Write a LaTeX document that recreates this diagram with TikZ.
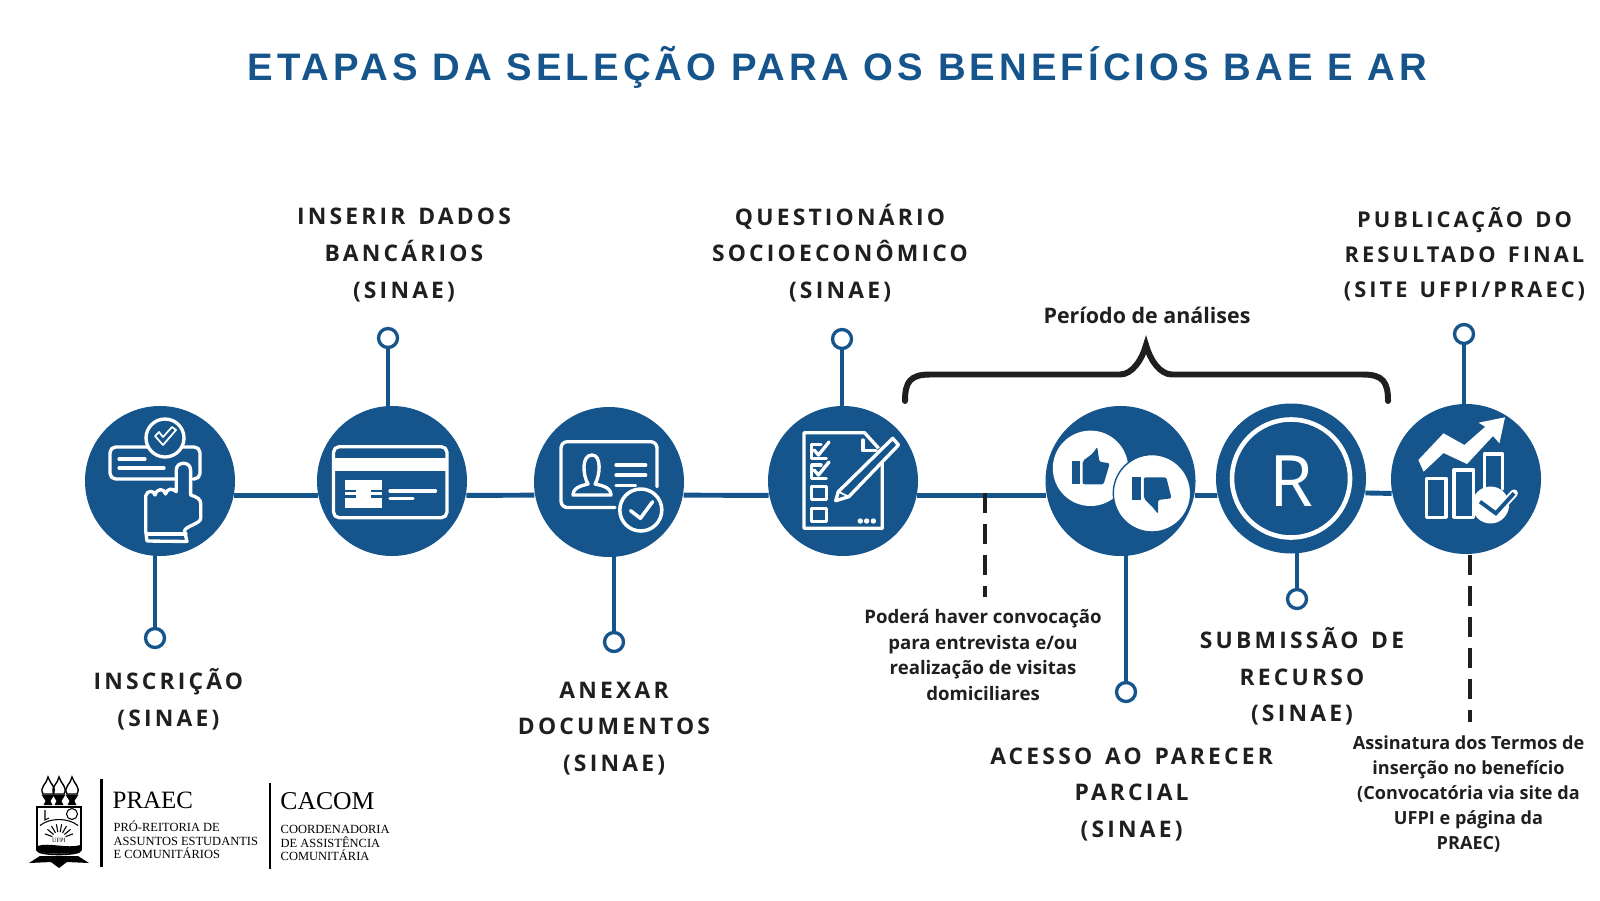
\documentclass[tikz,border=0pt]{standalone}
\usepackage{fontspec}
\usepackage{xcolor}
\usepackage{tikz}
\usetikzlibrary{backgrounds}
\setmainfont{Open Sans}
\newfontfamily\titlefont[LetterSpace=10.7]{Liberation Sans}
\newfontfamily\stepfont[LetterSpace=14,WordSpace=1.4]{Open Sans}
\newfontfamily\logofont{Liberation Serif}
\definecolor{praecblue}{HTML}{15558C}
\definecolor{inkdark}{HTML}{1F1F1F}

\begin{document}
\begin{tikzpicture}[
stagecircle/.style={circle,fill=praecblue,minimum size=1.5cm,inner sep=0pt},
linkdot/.style={circle,draw=praecblue,fill=white,line width=0.95pt,minimum size=0.19cm,inner sep=0pt},
timeline/.style={draw=praecblue,line width=1.4pt},
stemline/.style={draw=praecblue,line width=0.95pt},
guideline/.style={draw=inkdark,line width=1.15pt,dash pattern=on 5.7pt off 3.1pt},
bracket/.style={draw=inkdark,line width=1.7pt,line cap=round},
steplabel/.style={align=center,text=inkdark,inner sep=0pt,font=\stepfont\bfseries\fontsize{6.5}{10.4}\selectfont},
notelabel/.style={align=center,text=inkdark,inner sep=0pt,font=\bfseries\fontsize{5.3}{7.35}\selectfont},
iconline/.style={draw=white,line width=0.95pt,line join=round,line cap=round},
iconfill/.style={fill=white},
iconcut/.style={draw=praecblue,line width=0.7pt},
logoname/.style={anchor=base west,inner sep=0pt,font=\logofont\fontsize{7.1}{9}\selectfont},
logotext/.style={anchor=north west,align=left,inner sep=0pt,font=\logofont\fontsize{3.55}{3.8}\selectfont},
logorule/.style={draw=black,line width=0.85pt},
crestline/.style={draw=black,line width=0.3pt}
]
\useasboundingbox (0,0) rectangle (16,9);

\node[font=\titlefont\bfseries\fontsize{10.9}{13}\selectfont,text=praecblue] (titulo) at (8.375,8.33) {ETAPAS DA SELEÇÃO PARA OS BENEFÍCIOS BAE E AR};

% circulos das etapas
\node[stagecircle] (inscricao) at (1.60,4.19) {};
\node[stagecircle] (cartao) at (3.92,4.19) {};
\node[stagecircle] (anexo) at (6.09,4.18) {};
\node[stagecircle] (questionario) at (8.43,4.19) {};
\node[stagecircle] (parecer) at (11.205,4.19) {};
\node[stagecircle] (recurso) at (12.91,4.215) {};
\node[stagecircle] (resultado) at (14.66,4.21) {};

\node[linkdot] (inscricaoDot) at (1.55,2.62) {};
\node[linkdot] (cartaoDot) at (3.88,5.62) {};
\node[linkdot] (anexoDot) at (6.14,2.58) {};
\node[linkdot] (questionarioDot) at (8.42,5.61) {};
\node[linkdot] (parecerDot) at (11.26,2.08) {};
\node[linkdot] (recursoDot) at (12.97,3.01) {};
\node[linkdot] (resultadoDot) at (14.64,5.66) {};

\begin{scope}[on background layer]
\draw[timeline] (inscricao.-11) -- (cartao.191);
\draw[timeline] (cartao.-11) -- (anexo.190);
\draw[timeline] (anexo.-10) -- (questionario.191);
\draw[timeline] (questionario.-11) -- (parecer.191);
\draw[timeline] (parecer.-11) -- (recurso.193);
\draw[timeline] (recurso.-11) -- (resultado.191);
\draw[stemline] (inscricaoDot) -- (inscricaoDot |- inscricao.center);
\draw[stemline] (cartaoDot) -- (cartaoDot |- cartao.center);
\draw[stemline] (anexoDot) -- (anexoDot |- anexo.center);
\draw[stemline] (questionarioDot) -- (questionarioDot |- questionario.center);
\draw[stemline] (parecerDot) -- (parecerDot |- parecer.center);
\draw[stemline] (recursoDot) -- (recursoDot |- recurso.center);
\draw[stemline] (resultadoDot) -- (resultadoDot |- resultado.center);
\end{scope}

\coordinate (visitaTop) at (9.85,4.07);
\coordinate (visitaEnd) at (9.85,3.03);
\draw[guideline] (visitaTop) -- (visitaEnd);
\coordinate (termoTop) at (14.70,3.45);
\coordinate (termoEnd) at (14.70,1.78);
\draw[guideline] (termoTop) -- (termoEnd);

% chave do periodo de analises
\coordinate (chaveEsq) at (9.05,4.99);
\coordinate (chaveMeio) at (11.46,5.55);
\coordinate (chaveDir) at (13.88,4.99);
\draw[bracket] (chaveEsq) .. controls (9.05,5.18) and (9.10,5.255) .. (9.30,5.255)
  -- (11.20,5.255) .. controls (11.32,5.255) and (11.42,5.40) .. (chaveMeio)
  .. controls (11.50,5.40) and (11.60,5.255) .. (11.72,5.255)
  -- (13.63,5.255) .. controls (13.83,5.255) and (13.88,5.18) .. (chaveDir);

% inscricao
\begin{scope}[shift={(inscricao.center)},x=1mm,y=1mm]
\draw[iconline,rounded corners=1.6pt] (-1.2,3.4) -- (-5.0,3.4) -- (-5.0,0.2) -- (1.5,0.2);
\draw[iconline,rounded corners=1.6pt] (3.3,0.2) -- (4.0,0.2) -- (4.0,3.4) -- (2.2,3.4);
\draw[iconline] (-4.1,2.2) -- (-1.5,2.2);
\draw[iconline] (-4.1,1.3) -- (0.4,1.3);
\draw[iconline] (0.5,4.3) circle (1.9);
\draw[iconline,line width=0.5pt] (-0.5,4.5) -- (0.3,3.6) -- (1.6,5.1) -- (1.2,5.4) -- (0.3,4.4) -- (-0.1,4.9) -- cycle;
\draw[iconline,fill=praecblue] (1.63,-1.07) -- (1.63,1.1) .. controls (1.63,2.0) and (3.06,2.0) .. (3.06,1.1)
  -- (3.06,-1.4) .. controls (3.7,-1.6) and (4.08,-1.8) .. (4.08,-2.3) -- (4.08,-3.7)
  .. controls (4.08,-4.3) and (2.5,-4.5) .. (2.45,-5.0) -- (2.7,-6.05) -- (-1.3,-6.0) -- (-1.43,-5.0) -- (-1.43,-1.5)
  .. controls (-1.3,-0.9) and (-0.6,-0.9) .. (-0.5,-1.4)
  .. controls (-0.3,-0.7) and (0.4,-0.7) .. (0.55,-1.3)
  .. controls (0.7,-0.7) and (1.3,-0.7) .. (1.63,-1.07);
\draw[iconline] (-1.3,-5.3) -- (2.6,-5.3);
\end{scope}

% dados bancarios
\begin{scope}[shift={(cartao.center)},x=1mm,y=1mm]
\draw[iconline,rounded corners=1.6pt] (-5.85,-3.67) rectangle (5.5,3.43);
\fill[iconfill] (-5.85,0.97) rectangle (5.5,2.33);
\fill[iconfill] (-4.7,-2.67) rectangle (-0.96,0.1);
\draw[iconcut] (-4.7,-1.0) -- (-3.6,-1.0);
\draw[iconcut] (-4.7,-1.57) -- (-3.6,-1.57);
\draw[iconcut] (-2.1,-1.0) -- (-0.96,-1.0);
\draw[iconcut] (-2.1,-1.57) -- (-0.96,-1.57);
\draw[iconline] (-0.2,-1.0) -- (4.35,-1.0);
\draw[iconline] (-0.2,-1.77) -- (2.1,-1.77);
\end{scope}

% anexar documentos
\begin{scope}[shift={(anexo.center)},x=1mm,y=1mm]
\draw[iconline,rounded corners=1.8pt] (0.6,-2.55) -- (-4.8,-2.55) -- (-4.8,4.03) -- (4.8,4.03) -- (4.8,-0.47);
\draw[iconline] (-3.6,-1.3) .. controls (-3.6,-0.4) and (-2.3,-0.3) .. (-2.1,-0.2)
  .. controls (-2.6,0.6) and (-2.8,2.7) .. (-1.7,2.7)
  .. controls (-0.7,2.7) and (-0.9,0.6) .. (-1.4,-0.2)
  .. controls (-1.1,-0.3) and (0.2,-0.4) .. (0.2,-1.3) -- cycle;
\draw[iconline] (0.7,1.7) -- (3.67,1.7);
\draw[iconline] (0.7,0.7) -- (3.67,0.7);
\draw[iconline] (0.7,-0.37) -- (2.65,-0.37);
\draw[iconline,fill=praecblue,line width=1pt] (3.18,-2.8) circle (2.1);
\draw[iconline,line width=1pt] (2.16,-2.87) -- (3.14,-3.63) -- (4.36,-1.97);
\end{scope}

% questionario
\begin{scope}[shift={(questionario.center)},x=1mm,y=1mm]
\draw[iconline,line cap=butt] (3.56,3.27) -- (2.15,4.83) -- (-3.9,4.83) -- (-3.9,-4.73) -- (3.93,-4.73) -- (3.93,2.27);
\draw[iconline] (1.99,4.1) -- (1.99,3.03) -- (3.3,3.03);
\draw[iconline] (-1.67,2.27) -- (-3.13,2.27) -- (-3.13,3.67) -- (-2.2,3.67);
\draw[iconline] (-2.9,3.1) -- (-2.45,2.6) -- (-1.4,3.9);
\draw[iconline] (-1.67,0.27) -- (-3.13,0.27) -- (-3.13,1.6) -- (-2.2,1.6);
\draw[iconline] (-2.9,1.1) -- (-2.45,0.6) -- (-1.4,1.9);
\draw[iconline] (-3.13,-1.83) rectangle (-1.67,-0.57);
\draw[iconline] (-3.13,-4.07) rectangle (-1.67,-2.73);
\fill[iconfill] (1.73,-4.0) circle (0.27);
\fill[iconfill] (2.36,-4.0) circle (0.27);
\fill[iconfill] (3.04,-4.0) circle (0.27);
\draw[iconline,fill=praecblue] (-0.73,-1.97) -- (-0.47,-1.07) -- (4.97,4.27) -- (5.55,3.6) -- (0.58,-1.57) -- cycle;
\draw[iconline,line width=0.5pt] (-0.47,-1.07) -- (0.58,-1.57);
\end{scope}

% parecer parcial
\begin{scope}[shift={(parecer.center)},x=1mm,y=1mm]
\fill[iconfill] (-3.0,1.27) circle (3.77);
\draw[fill=white,draw=praecblue,line width=0.4pt] (3.15,-1.23) circle (3.87);
\fill[praecblue] (-4.85,-0.33) rectangle (-4.05,2.0);
\fill[praecblue,rounded corners=0.6pt] (-3.79,-0.33) -- (-3.79,2.0) -- (-2.75,2.77) -- (-2.33,3.43) -- (-2.12,1.93) -- (-1.07,1.77) -- (-1.7,-0.33) -- cycle;
\fill[praecblue] (1.15,-1.9) rectangle (2.05,0.37);
\fill[praecblue,rounded corners=0.6pt] (2.33,0.37) -- (4.58,0.37) -- (5.1,-1.73) -- (3.75,-1.9) -- (3.75,-3.3) -- (3.2,-2.6) -- (2.33,-1.75) -- cycle;
\end{scope}

% submissao de recurso
\draw[draw=white,line width=1.3pt] (recurso.center) circle (0.59);
\node[text=white,inner sep=0pt,font=\fontsize{20.2}{24}\selectfont] (letraR) at (12.91,4.19) {R};

% publicacao do resultado
\begin{scope}[shift={(resultado.center)},x=1mm,y=1mm]
\fill[iconfill] (-4.77,1.9) -- (-2.25,4.57) -- (-0.16,3.4) -- (1.93,5.23) -- (1.25,5.63) -- (3.9,6.17) -- (3.34,3.57) -- (2.7,4.3) -- (0.1,1.5) -- (-2.25,2.6) -- (-4.24,0.73) -- cycle;
\draw[iconline] (-3.93,-3.83) rectangle (-2.0,0.07);
\draw[iconline] (-1.21,-3.83) rectangle (0.78,0.9);
\draw[iconline] (1.82,-1.0) -- (1.82,2.5) -- (3.65,2.5) -- (3.65,-1.0);
\fill[iconfill] (2.45,-2.6) circle (1.85);
\draw[iconline,line width=2.2pt] (1.4,-2.27) -- (2.98,-3.43) -- (4.8,-1.43);
\draw[draw=praecblue,line width=1.1pt] (1.4,-2.27) -- (2.98,-3.43) -- (4.8,-1.43);
\end{scope}

% textos das etapas
\node[steplabel] (inscricaoTxt) at (1.684,2.01) {INSCRIÇÃO\\(SINAE)};
\node[steplabel] (cartaoTxt) at (4.04,6.45) {INSERIR DADOS\\BANCÁRIOS\\(SINAE)};
\node[steplabel] (anexoTxt) at (6.14,1.715) {ANEXAR\\DOCUMENTOS\\(SINAE)};
\node[steplabel] (questionarioTxt) at (8.40,6.47) {QUESTIONÁRIO\\SOCIOECONÔMICO\\(SINAE)};
\node[steplabel] (parecerTxt) at (11.316,1.055) {ACESSO AO PARECER\\PARCIAL\\(SINAE)};
\node[steplabel] (recursoTxt) at (13.02,2.235) {SUBMISSÃO DE\\RECURSO\\(SINAE)};
\node[steplabel,font=\stepfont\bfseries\fontsize{6.2}{9.9}\selectfont] (resultadoTxt) at (14.645,6.46) {PUBLICAÇÃO DO\\RESULTADO FINAL\\(SITE UFPI/PRAEC)};

\node[notelabel,font=\bfseries\fontsize{6.1}{7.35}\selectfont] (analiseTxt) at (11.47,5.85) {Período de análises};
\node[notelabel] (visitaTxt) at (9.83,2.45) {Poderá haver convocação\\para entrevista e/ou\\realização de visitas\\domiciliares};
\node[notelabel,font=\bfseries\fontsize{5.15}{7.1}\selectfont] (termoTxt) at (14.685,1.06) {Assinatura dos Termos de\\inserção no benefício\\(Convocatória via site da\\UFPI e página da\\PRAEC)};

% brasao e assinaturas
\begin{scope}[shift={(0.58,0.80)},x=1mm,y=1mm]
\foreach \t in {-1.0,0.1,1.4} {
  \draw[crestline,line width=0.4pt] (\t-0.5,2.6) .. controls (\t-0.9,3.3) and (\t-0.1,3.6) .. (\t,4.3) .. controls (\t+0.2,3.6) and (\t+0.9,3.3) .. (\t+0.5,2.6) -- cycle;
  \fill (\t-0.65,2.55) -- (\t+0.65,2.55) -- (\t+0.25,1.9) -- (\t+0.45,1.5) -- (\t-0.45,1.5) -- (\t-0.25,1.9) -- cycle;
}
\draw[crestline,line width=0.45pt] (-2.1,1.3) -- (2.3,1.3) -- (2.3,-3.0) .. controls (2.3,-3.6) and (-2.1,-3.6) .. (-2.1,-3.0) -- cycle;
\draw[crestline] (1.4,0.6) circle (0.55);
\draw[crestline] (-1.3,1.0) -- (-1.3,0.0) -- (-0.9,0.2);
\foreach \a in {20,40,...,160} {
  \draw[crestline] (0.1,-1.9) ++(\a:0.7) -- ++(\a:0.8);
}
\draw[crestline] (-1.8,-0.55) .. controls (-0.8,0.25) and (1.0,0.25) .. (2.0,-0.55);
\fill (-2.05,-2.6) .. controls (-0.9,-2.2) and (0.9,-2.9) .. (2.25,-2.5) -- (2.25,-3.0) .. controls (2.25,-3.5) and (-2.05,-3.5) .. (-2.05,-3.0) -- cycle;
\fill (-2.9,-4.3) -- (-1.8,-3.6) -- (2.0,-3.6) -- (3.1,-4.3) -- (0.9,-4.2) -- (0.1,-4.8) -- (-0.7,-4.2) -- cycle;
\node[inner sep=0pt,font=\logofont\fontsize{1.8}{2}\selectfont] (ufpiTxt) at (0.1,-2.0) {UFPI};
\end{scope}

\coordinate (ruleAtop) at (1.017,1.21);
\coordinate (ruleAend) at (1.017,0.33);
\draw[logorule] (ruleAtop) -- (ruleAend);
\coordinate (ruleBtop) at (2.70,1.17);
\coordinate (ruleBend) at (2.70,0.31);
\draw[logorule] (ruleBtop) -- (ruleBend);
\node[logoname] (praecTxt) at (1.12,0.917) {PRAEC};
\node[logotext] (praecSub) at (1.13,0.795) {PRÓ-REITORIA DE\\ASSUNTOS ESTUDANTIS\\E COMUNITÁRIOS};
\node[logoname,font=\logofont\fontsize{7.3}{9}\selectfont] (cacomTxt) at (2.797,0.91) {CACOM};
\node[logotext] (cacomSub) at (2.80,0.75) {COORDENADORIA\\DE ASSISTÊNCIA\\COMUNITÁRIA};
\end{tikzpicture}
\end{document}
